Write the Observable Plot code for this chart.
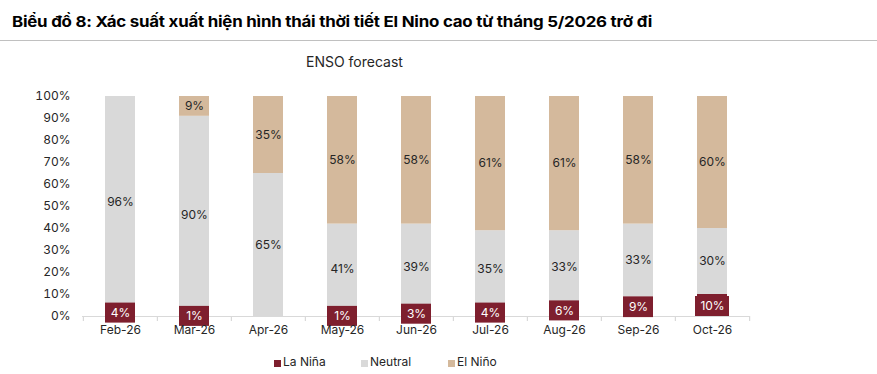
<!DOCTYPE html>
<html><head><meta charset="utf-8">
<script src="https://cdn.jsdelivr.net/npm/d3@7"></script>
<script src="https://cdn.jsdelivr.net/npm/@observablehq/plot@0.6"></script>
<style>
body{margin:0;background:#fff;font-family:Inter,sans-serif;}
#wrap{position:relative;width:877px;height:374px;overflow:hidden;background:#fff}
#title{position:absolute;left:12px;top:13px;font:bold 15px Inter,sans-serif;white-space:nowrap;transform-origin:0 0;color:#000;line-height:18px;letter-spacing:-0.2px}
#rule{position:absolute;left:0;top:40px;width:877px;height:1px;background:#c0c0c0}
#sub{position:absolute;left:306px;top:53px;font:14px Inter,sans-serif;color:#262626;line-height:17px}
#chart{position:absolute;left:0;top:42px}
.lg{position:absolute;top:355px;font:12px Inter,sans-serif;color:#262626;line-height:14px;white-space:nowrap}
.lg i{display:inline-block;width:7px;height:7px;margin-right:2px;vertical-align:-1px}
</style></head>
<body>
<div id="wrap">
  <div id="title">Biểu đồ 8: Xác suất xuất hiện hình thái thời tiết El Nino cao từ tháng 5/2026 trở đi</div>
  <div id="rule"></div>
  <div id="sub">ENSO forecast</div>
  <div id="chart"></div>
</div>
<script>
const months = ["Feb-26","Mar-26","Apr-26","May-26","Jun-26","Jul-26","Aug-26","Sep-26","Oct-26"];
const series = ["La Niña","Neutral","El Niño"];
const laNina  = [4, 1, 0, 1, 3, 4, 6, 9, 10];
const neutral = [96, 90, 65, 41, 39, 35, 33, 33, 30];
const elNino  = [0, 9, 35, 58, 58, 61, 61, 58, 60];
const colors = ["#7e1f2e", "#d9d9d9", "#d4b99c"];
const yTicks = [0,10,20,30,40,50,60,70,80,90,100];
const legendX = [274, 361, 448];

const values = [laNina, neutral, elNino];
const rows = [];
months.forEach((m, i) => series.forEach((s, j) => rows.push({month: m, series: s, value: values[j][i]})));
const laRows = rows.filter(d => d.series === "La Niña" && d.value > 0);

const step = (877 - 82 - 127) / months.length;

const chart = Plot.plot({
  width: 877, height: 300,
  marginTop: 54, marginBottom: 26, marginLeft: 82, marginRight: 127,
  x: {type: "band", domain: months, padding: 0},
  y: {domain: [0, 100]},
  color: {domain: series, range: colors},
  style: {fontFamily: "Inter, sans-serif", fontSize: "12px", color: "#262626", background: "transparent"},
  marks: [
    Plot.ruleY([0], {stroke: "#d9d9d9", strokeWidth: 1.2}),
    Plot.ruleX(months, {x: d => d, dx: -step / 2, y1: 0, y2: -2.3, stroke: "#d9d9d9", strokeWidth: 1.2}),
    Plot.ruleX(months.slice(-1), {x: d => d, dx: step / 2, y1: 0, y2: -2.3, stroke: "#d9d9d9", strokeWidth: 1.2}),
    Plot.barY(rows, Plot.stackY({x: "month", y: "value", fill: "series", order: series, insetLeft: 22, insetRight: 22})),
    Plot.text(rows, Plot.stackY({x: "month", y: "value", z: "series", order: series,
      text: d => (d.series !== "La Niña" && d.value > 0) ? d.value + "%" : "", fill: "#262626", fontSize: 12})),
    Plot.barY(laRows.filter(d => d.value < 10), {x: "month", y1: d => d.value / 2, y2: d => d.value / 2,
      fill: colors[0], insetLeft: 22, insetRight: 22, insetTop: -9, insetBottom: -11}),
    Plot.barY(laRows.filter(d => d.value >= 10), {x: "month", y1: d => d.value / 2, y2: d => d.value / 2,
      fill: colors[0], insetLeft: 20, insetRight: 20, insetTop: -9, insetBottom: -11}),
    Plot.text(laRows, {x: "month", y: d => d.value / 2, dy: 1, text: d => d.value + "%", fill: "#ffffff", fontSize: 12}),
    Plot.axisY({ticks: yTicks, tickFormat: d => d + "%", tickSize: 0, tickPadding: 12, label: null, fill: "#262626"}),
    Plot.axisX({tickSize: 0, tickPadding: 9, label: null, fill: "#262626"})
  ]
});
document.getElementById("chart").appendChild(chart);

const wrap = document.getElementById("wrap");
series.forEach((s, j) => {
  const el = document.createElement("div");
  el.className = "lg";
  el.style.left = legendX[j] + "px";
  el.innerHTML = `<i style="background:${colors[j]}"></i>${s}`;
  wrap.appendChild(el);
});

const t = document.getElementById("title");
const w = t.getBoundingClientRect().width;
t.style.transform = `scaleX(${640 / w})`;
</script>
</body></html>
